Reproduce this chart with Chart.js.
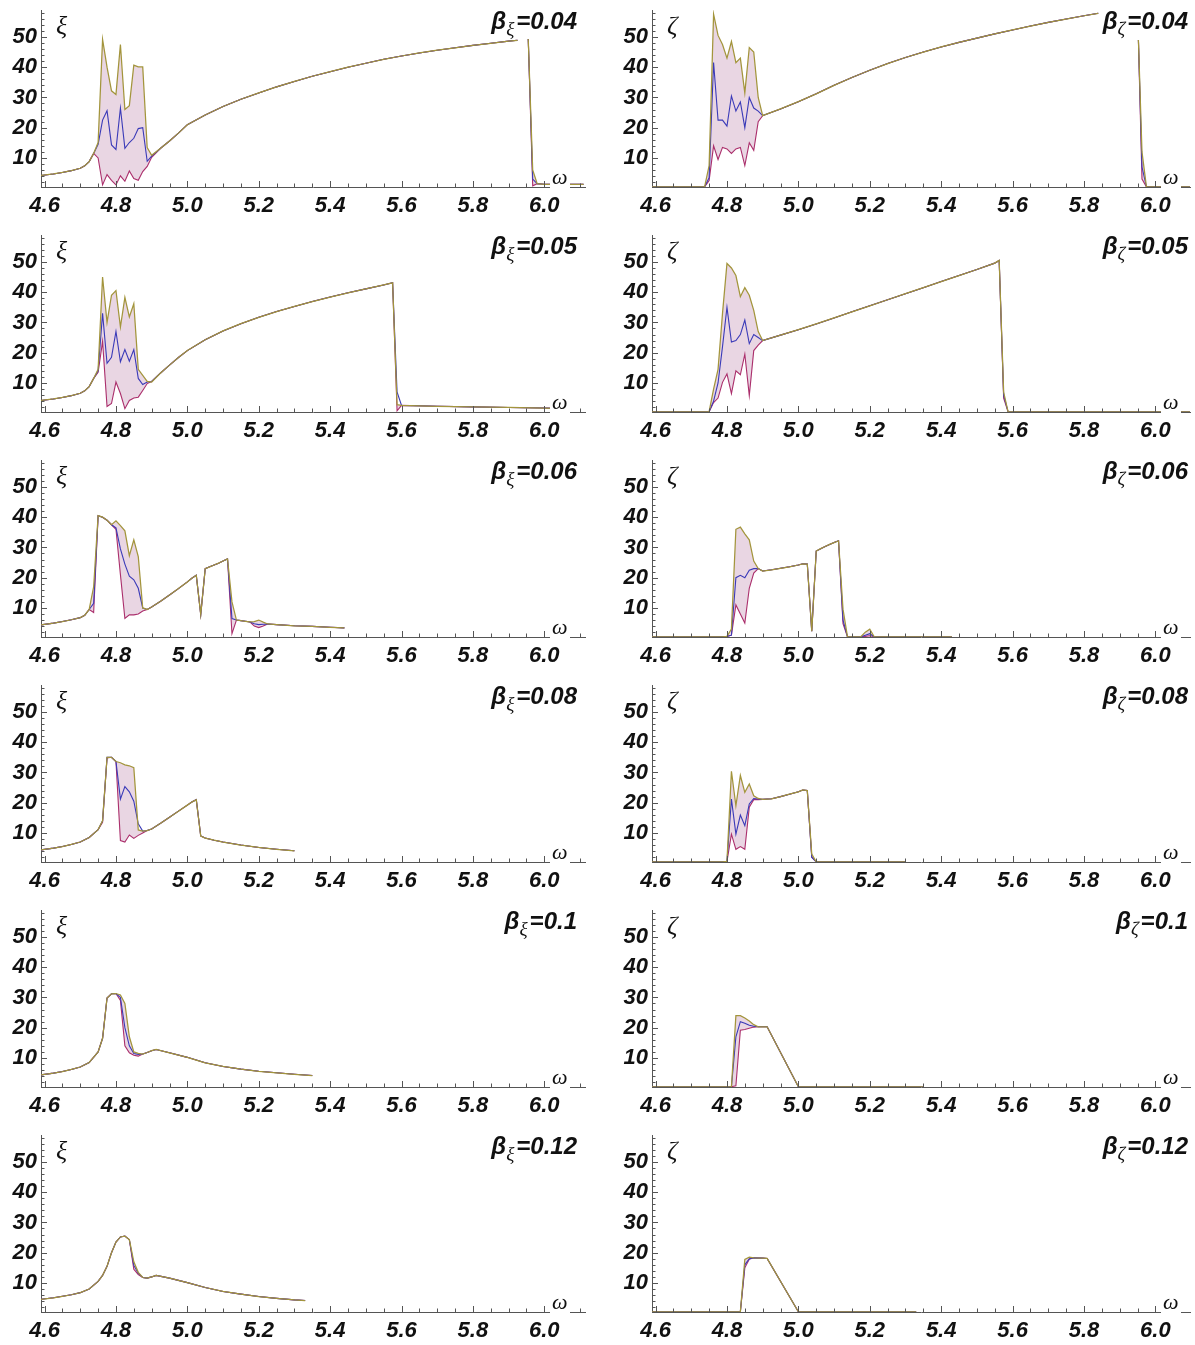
<!DOCTYPE html>
<html><head><meta charset="utf-8">
<script src="https://cdn.jsdelivr.net/npm/chart.js@4.4.0/dist/chart.umd.min.js"></script>
<style>
body{margin:0;background:#fff;width:1195px;height:1345px;position:relative;overflow:hidden}
.panel{position:absolute}
.lbl{position:absolute;white-space:nowrap;color:#111;line-height:1}
.sym{font-family:'Liberation Serif','DejaVu Serif',serif;font-style:italic;font-size:26px}
.om{font-family:'Liberation Serif','DejaVu Serif',serif;font-style:italic;font-size:22px;background:#fff;padding:0 2px}
.beta{font-family:'Liberation Sans',Arial,sans-serif;font-weight:bold;font-style:italic;font-size:24px}
.beta sub{font-family:'Liberation Serif',serif;font-weight:normal;font-size:19px;vertical-align:-6px;margin-right:2px}
</style></head><body>
<script>
// ---------- DATA ----------
const xTicks = [4.6,4.8,5.0,5.2,5.4,5.6,5.8,6.0];
const yTicks = [10,20,30,40,50];

// xi, beta=0.04
const w_xi04  = [4.59,4.625,4.65,4.675,4.7,4.7125,4.725,4.7375,4.75,4.7625,4.775,4.7875,4.8,4.8125,4.825,4.8375,4.85,4.8625,4.875,4.8875,4.9,4.925,4.95,4.975,5.0,5.05,5.1,5.15,5.2,5.25,5.3,5.35,5.4,5.45,5.5,5.55,5.6,5.65,5.7,5.75,5.8,5.85,5.9,5.925,5.94,5.955,5.9675,5.98,6.0,6.05,6.11];
const up_xi04 = [4.2,4.7,5.2,5.8,6.6,7.4,8.8,11.5,15.1,49.2,40,32.2,31.0,47.5,26,27.3,40.7,40.1,40.1,13.4,10.9,13.2,15.6,18.2,21,24.2,27,29.4,31.5,33.5,35.3,37,38.5,40,41.3,42.6,43.7,44.7,45.6,46.4,47.2,47.9,48.6,48.9,null,49.3,6.0,1.5,1.3,1.3,1.3];
const mid_xi04= [4.2,4.7,5.2,5.8,6.6,7.4,8.8,11.5,14.5,22.5,25.6,14.3,12.8,26.5,13.2,15.1,16.5,19.7,20,8.9,10.6,13.2,15.6,18.2,21,24.2,27,29.4,31.5,33.5,35.3,37,38.5,40,41.3,42.6,43.7,44.7,45.6,46.4,47.2,47.9,48.6,48.9,null,49.3,3.0,1.5,1.3,1.3,1.3];
const lo_xi04 = [4.2,4.7,5.2,5.8,6.6,7.4,8.8,11.5,10,1.1,4.5,2.6,1.1,4.1,2.3,5.7,3.2,2.6,5.5,7.2,10.2,13.2,15.6,18.2,21,24.2,27,29.4,31.5,33.5,35.3,37,38.5,40,41.3,42.6,43.7,44.7,45.6,46.4,47.2,47.9,48.6,48.9,null,49.3,0.8,1.5,1.3,1.3,1.3];

// zeta, beta=0.04
const w_ze04  = [4.59,4.65,4.7,4.725,4.7375,4.75,4.7625,4.775,4.7875,4.8,4.8125,4.825,4.8375,4.85,4.8625,4.875,4.8875,4.9,4.95,5.0,5.05,5.1,5.15,5.2,5.25,5.3,5.35,5.4,5.45,5.5,5.55,5.6,5.65,5.7,5.75,5.8,5.84,5.9,5.9525,5.9625,5.975,6.0,6.05,6.1];
const up_ze04 = [0.45,0.45,0.45,0.45,0.5,7.5,57.5,50.5,47.5,43,48.5,41.5,43,31.5,46.5,45,30,24,26.2,28.6,31.2,34,36.6,39,41.2,43.2,45,46.7,48.2,49.6,51,52.3,53.6,54.8,55.9,57,57.8,null,49,12,0.45,0.45,0.45,0.45];
const mid_ze04= [0.45,0.45,0.45,0.45,0.5,3.5,41.5,22.5,22.5,20.5,30.5,25.5,28.5,20,30,26.5,25.5,24,26.2,28.6,31.2,34,36.6,39,41.2,43.2,45,46.7,48.2,49.6,51,52.3,53.6,54.8,55.9,57,57.8,null,49,7,0.45,0.45,0.45,0.45];
const lo_ze04 = [0.45,0.45,0.45,0.45,0.5,2.5,14,9.5,13.5,13,11.5,13,13.5,7.5,15,12.5,22,24,26.2,28.6,31.2,34,36.6,39,41.2,43.2,45,46.7,48.2,49.6,51,52.3,53.6,54.8,55.9,57,57.8,null,49,3,0.45,0.45,0.45,0.45];

// xi, beta=0.05
const w_xi05  = [4.59,4.625,4.65,4.675,4.7,4.7125,4.725,4.7375,4.75,4.7625,4.775,4.7875,4.8,4.8125,4.825,4.8375,4.85,4.8625,4.875,4.8875,4.9,4.925,4.95,4.975,5.0,5.05,5.1,5.15,5.2,5.25,5.3,5.35,5.4,5.45,5.5,5.55,5.575,5.5875,5.6,5.7,5.8,5.9,6.0,6.03];
const up_xi05 = [4.2,4.7,5.2,5.8,6.6,7.4,8.8,11.5,14.5,45,30,39,40.5,28.5,38.3,31.8,36.2,14.5,12.5,10.5,10.3,13.3,15.9,18.4,20.7,24.3,27.2,29.6,31.7,33.6,35.3,36.9,38.4,39.8,41.1,42.4,43.1,2.8,2.6,2.3,2.1,1.9,1.7,1.6];
const mid_xi05= [4.2,4.7,5.2,5.8,6.6,7.4,8.8,11.5,14,33,16.5,18.5,27,17,21,17.2,21,11.5,9.5,10.3,10.5,13.3,15.9,18.4,20.7,24.3,27.2,29.6,31.7,33.6,35.3,36.9,38.4,39.8,41.1,42.4,43.1,7,2.6,2.3,2.1,1.9,1.7,1.6];
const lo_xi05 = [4.2,4.7,5.2,5.8,6.6,7.4,8.8,11.5,13.5,23.7,2.2,3.2,10.3,6.5,1.5,4.2,5.0,5.3,7.5,9.8,10.5,13.3,15.9,18.4,20.7,24.3,27.2,29.6,31.7,33.6,35.3,36.9,38.4,39.8,41.1,42.4,43.1,0.8,2.6,2.3,2.1,1.9,1.7,1.6];

// zeta, beta=0.05
const w_ze05  = [4.59,4.65,4.7,4.725,4.75,4.7625,4.775,4.7875,4.8,4.8125,4.825,4.8375,4.85,4.8625,4.875,4.8875,4.9,4.95,5.0,5.05,5.1,5.15,5.2,5.25,5.3,5.35,5.4,5.45,5.5,5.55,5.5625,5.575,5.5875,5.6,5.7,5.8,5.9,6.0,6.1];
const up_ze05 = [0.45,0.45,0.45,0.45,0.5,8,14.5,33,49.5,48,45.5,38.5,41.5,39,34,27,24,25.8,27.6,29.5,31.5,33.5,35.5,37.5,39.5,41.5,43.5,45.5,47.5,49.6,50.5,7,0.45,0.45,0.45,0.45,0.45,0.45,0.45];
const mid_ze05= [0.45,0.45,0.45,0.45,0.5,4,10,22,35,23.5,24,26,30.8,23,26,25,24,25.8,27.6,29.5,31.5,33.5,35.5,37.5,39.5,41.5,43.5,45.5,47.5,49.6,50.5,6,0.45,0.45,0.45,0.45,0.45,0.45,0.45];
const lo_ze05 = [0.45,0.45,0.45,0.45,0.5,3.5,5,10.2,13,6.5,14,12.7,19.5,5.8,20.7,22.5,24,25.8,27.6,29.5,31.5,33.5,35.5,37.5,39.5,41.5,43.5,45.5,47.5,49.6,50.5,5,0.45,0.45,0.45,0.45,0.45,0.45,0.45];

// xi, beta=0.06
const w_xi06  = [4.59,4.625,4.65,4.675,4.7,4.7125,4.725,4.7375,4.75,4.7625,4.775,4.7875,4.8,4.8125,4.825,4.8375,4.85,4.8625,4.875,4.8875,4.9,4.925,4.95,4.975,5.0,5.0125,5.025,5.0375,5.05,5.0625,5.075,5.0875,5.1,5.1125,5.125,5.1375,5.15,5.1625,5.175,5.1875,5.2,5.2125,5.225,5.25,5.3,5.35,5.4,5.44];
const up_xi06 = [4.4,5.0,5.5,6.1,6.8,7.6,9.5,17,40.5,40,39,37.5,38.8,37.2,35.5,27.3,32.5,27,10,9.5,10.3,12.2,14.3,16.4,18.6,19.8,20.8,7.8,23,23.6,24.2,24.8,25.5,26.2,12,6,5.8,5.6,5.4,5.5,6,5.3,4.7,4.5,4.1,3.9,3.6,3.4];
const mid_xi06= [4.4,5.0,5.5,6.1,6.8,7.6,9.5,11.5,40.5,40,39,37.5,36.5,29.5,24.5,20.5,19.3,16.5,10,9.5,10.3,12.2,14.3,16.4,18.6,19.8,20.8,7.8,23,23.6,24.2,24.8,25.5,26.2,6.5,6,5.8,5.6,5.4,4.8,4.5,4.6,4.7,4.5,4.1,3.9,3.6,3.4];
const lo_xi06 = [4.4,5.0,5.5,6.1,6.8,7.6,9.5,8.5,40.5,40,39,37.5,36,21,6.5,7.7,7.7,8,9,9.5,10.3,12.2,14.3,16.4,18.6,19.8,20.8,7.8,23,23.6,24.2,24.8,25.5,26.2,1.5,6,5.8,5.6,5.4,4.0,3.5,4.0,4.7,4.5,4.1,3.9,3.6,3.4];

// zeta, beta=0.06
const w_ze06  = [4.59,4.7,4.775,4.7875,4.8,4.8125,4.825,4.8375,4.85,4.8625,4.875,4.8875,4.9,4.925,4.95,4.975,5.0,5.0125,5.025,5.0375,5.05,5.0625,5.075,5.0875,5.1,5.1125,5.125,5.1375,5.15,5.175,5.1875,5.2,5.2125,5.225,5.25,5.3,5.35,5.4,5.43];
const up_ze06 = [0.45,0.45,0.45,0.45,0.6,3,36,36.7,34.5,32.5,25.5,23,22.2,22.6,23.1,23.6,24.2,24.6,24.5,2.3,28.8,29.6,30.3,31,31.6,32.2,9.6,0.5,0.45,0.5,2,3,0.5,0.45,0.45,0.45,0.45,0.45,0.45];
const mid_ze06= [0.45,0.45,0.45,0.45,0.6,1,20,20.8,20,22.5,23,23,22.2,22.6,23.1,23.6,24.2,24.6,24.5,2.3,28.8,29.6,30.3,31,31.6,32.2,6,0.5,0.45,0.5,1,1.5,0.5,0.45,0.45,0.45,0.45,0.45,0.45];
const lo_ze06 = [0.45,0.45,0.45,0.45,0.6,1,11,8,5,16.5,21.5,23,22.2,22.6,23.1,23.6,24.2,24.6,24.5,2.3,28.8,29.6,30.3,31,31.6,32.2,4.8,0.5,0.45,0.5,0.6,0.8,0.5,0.45,0.45,0.45,0.45,0.45,0.45];

// xi, beta=0.08
const w_xi08  = [4.59,4.625,4.65,4.675,4.7,4.725,4.75,4.7625,4.775,4.7875,4.8,4.8125,4.825,4.8375,4.85,4.8625,4.875,4.8875,4.9,4.925,4.95,4.975,5.0,5.0125,5.025,5.0375,5.05,5.075,5.1,5.15,5.2,5.25,5.3];
const up_xi08 = [4.4,5.0,5.5,6.2,7.0,8.5,11.1,14,35,35,33.6,33.2,32.5,32.2,31.6,11,10.6,10.8,11.3,13.2,15.2,17.2,19.2,20.2,21,9,8.3,7.6,7,6,5.2,4.6,4.1];
const mid_xi08= [4.4,5.0,5.5,6.2,7.0,8.5,11.1,14,35,35,33.6,21.2,25.3,23.6,20.5,13,10.6,10.8,11.3,13.2,15.2,17.2,19.2,20.2,21,9,8.3,7.6,7,6,5.2,4.6,4.1];
const lo_xi08 = [4.4,5.0,5.5,6.2,7.0,8.5,11.1,13.5,34.8,35,33.6,7.5,7.0,9.3,8.2,9.2,10,10.8,11.3,13.2,15.2,17.2,19.2,20.2,21,9,8.3,7.6,7,6,5.2,4.6,4.1];

// zeta, beta=0.08
const w_ze08  = [4.59,4.7,4.7875,4.8,4.8125,4.825,4.8375,4.85,4.8625,4.875,4.8875,4.9,4.925,4.95,4.975,5.0,5.0125,5.025,5.0375,5.05,5.1,5.2,5.3];
const up_ze08 = [0.45,0.45,0.45,0.6,30.4,19,29,23.4,26.2,22.3,21.4,21.1,21.3,22,22.8,23.6,24.2,24,3,0.45,0.45,0.45,0.45];
const mid_ze08= [0.45,0.45,0.45,0.6,21.2,9.6,15.9,12.4,19.6,21.4,21.2,21.1,21.3,22,22.8,23.6,24.2,24,2,0.45,0.45,0.45,0.45];
const lo_ze08 = [0.45,0.45,0.45,0.6,9.6,4.6,5.5,4.6,18.5,21,21,21.1,21.3,22,22.8,23.6,24.2,24,2,0.45,0.45,0.45,0.45];

// xi, beta=0.1
const w_xi10  = [4.59,4.625,4.65,4.675,4.7,4.725,4.75,4.7625,4.775,4.7875,4.8,4.8125,4.825,4.8375,4.85,4.8625,4.875,4.8875,4.9,4.9125,4.95,5.0,5.025,5.05,5.1,5.15,5.2,5.25,5.3,5.35];
const up_xi10 = [4.4,5.0,5.5,6.2,7.0,8.5,12,16.5,29.8,31.2,31.3,30.8,28,17,12,11.5,11.3,11.8,12.4,12.8,11.7,10.2,9.3,8.4,7.2,6.3,5.6,5.1,4.6,4.2];
const mid_xi10= [4.4,5.0,5.5,6.2,7.0,8.5,12,16.5,29.8,31.2,31.3,30,20,14,11.5,11.2,11.3,11.8,12.4,12.8,11.7,10.2,9.3,8.4,7.2,6.3,5.6,5.1,4.6,4.2];
const lo_xi10 = [4.4,5.0,5.5,6.2,7.0,8.5,12,16.5,29.8,31.2,31.3,29,14,11.7,10.9,10.6,11.3,11.8,12.4,12.8,11.7,10.2,9.3,8.4,7.2,6.3,5.6,5.1,4.6,4.2];

// zeta, beta=0.1
const w_ze10  = [4.59,4.7,4.8,4.8125,4.825,4.8375,4.85,4.8625,4.875,4.8875,4.9,4.9125,5.0,5.1,5.2,5.3,5.35];
const up_ze10 = [0.45,0.45,0.45,0.5,24,24,23.2,22.2,21,20.3,20.3,20.3,0.5,0.45,0.45,0.45,0.45];
const mid_ze10= [0.45,0.45,0.45,0.5,17,22,21.5,20.8,20.5,20.3,20.3,20.3,0.5,0.45,0.45,0.45,0.45];
const lo_ze10 = [0.45,0.45,0.45,0.5,0.8,19.2,19.4,19.8,20.2,20.3,20.3,20.3,0.5,0.45,0.45,0.45,0.45];

// xi, beta=0.12
const w_xi12  = [4.59,4.625,4.65,4.675,4.7,4.725,4.75,4.7625,4.775,4.7875,4.8,4.8125,4.825,4.8375,4.85,4.8625,4.875,4.8875,4.9,4.9125,4.95,5.0,5.05,5.1,5.15,5.2,5.25,5.3,5.33];
const up_xi12 = [4.6,5.1,5.6,6.1,6.8,8.0,10.5,12.5,15.5,20,23.5,25.2,25.5,24.3,17,13.5,11.8,11.6,12,12.5,11.6,10.1,8.5,7.2,6.3,5.5,4.9,4.4,4.2];
const mid_xi12= [4.6,5.1,5.6,6.1,6.8,8.0,10.5,12.5,15.5,20,23.5,25.2,25.5,24.3,15.8,13.2,11.8,11.6,12,12.5,11.6,10.1,8.5,7.2,6.3,5.5,4.9,4.4,4.2];
const lo_xi12 = [4.6,5.1,5.6,6.1,6.8,8.0,10.5,12.5,15.5,20,23.5,25.2,25.5,24.3,14.5,12.8,11.8,11.6,12,12.5,11.6,10.1,8.5,7.2,6.3,5.5,4.9,4.4,4.2];

// zeta, beta=0.12
const w_ze12  = [4.59,4.7,4.8,4.8375,4.85,4.8625,4.875,4.9,4.9125,5.0,5.1,5.2,5.3,5.33];
const up_ze12 = [0.45,0.45,0.45,0.5,17.8,18.5,18.3,18.2,18.1,0.5,0.45,0.45,0.45,0.45];
const mid_ze12= [0.45,0.45,0.45,0.5,16,18,18.3,18.2,18.1,0.5,0.45,0.45,0.45,0.45];
const lo_ze12 = [0.45,0.45,0.45,0.5,15,17.8,18.3,18.2,18.1,0.5,0.45,0.45,0.45,0.45];

const betaLabels = ['0.04','0.05','0.06','0.08','0.1','0.12'];

// ---------- BUILD ----------
const OLIVE='#a3953c', BLUE='#3a3ab8', MAG='#ab2f6c', FILL='#e9d6e3';
const panels = [
  [w_xi04,up_xi04,mid_xi04,lo_xi04],[w_ze04,up_ze04,mid_ze04,lo_ze04],
  [w_xi05,up_xi05,mid_xi05,lo_xi05],[w_ze05,up_ze05,mid_ze05,lo_ze05],
  [w_xi06,up_xi06,mid_xi06,lo_xi06],[w_ze06,up_ze06,mid_ze06,lo_ze06],
  [w_xi08,up_xi08,mid_xi08,lo_xi08],[w_ze08,up_ze08,mid_ze08,lo_ze08],
  [w_xi10,up_xi10,mid_xi10,lo_xi10],[w_ze10,up_ze10,mid_ze10,lo_ze10],
  [w_xi12,up_xi12,mid_xi12,lo_xi12],[w_ze12,up_ze12,mid_ze12,lo_ze12]
];

const tickPlugin = {
  id:'inticks',
  afterDraw(chart){
    const ctx=chart.ctx, xs=chart.scales.x, ys=chart.scales.y;
    const y0=ys.bottom, x0=xs.left;
    ctx.save(); ctx.strokeStyle='#555'; ctx.lineWidth=1;
    for(let k=0;k<=30;k++){
      const v=4.6+k*0.05; if(v>xs.max) break;
      const px=Math.round(xs.getPixelForValue(v))+0.5;
      const len = (k%4===0)?6:3.5;
      ctx.beginPath(); ctx.moveTo(px,y0); ctx.lineTo(px,y0-len); ctx.stroke();
    }
    for(let v=2; v<=ys.max; v+=2){
      const py=Math.round(ys.getPixelForValue(v))+0.5;
      const len = (v%10===0)?6:3.5;
      ctx.beginPath(); ctx.moveTo(x0,py); ctx.lineTo(x0+len,py); ctx.stroke();
    }
    ctx.restore();
  }
};

const tickFont = {family:"'Liberation Sans', Arial, sans-serif", size:22, weight:'bold', style:'italic'};
const zeroPad = s => { s.paddingTop=0; s.paddingBottom=0; s.paddingLeft=0; s.paddingRight=0; };

panels.forEach((p,i)=>{
  const col=i%2, row=Math.floor(i/2);
  const geo = col===0 ? {left:0,width:600,axisW:41,padR:15,xmax:6.114} : {left:610,width:585,axisW:42,padR:5,xmax:6.097};
  const top=row*225;
  const div=document.createElement('div'); div.className='panel';
  div.style.left=geo.left+'px'; div.style.top=top+'px';
  div.style.width=geo.width+'px'; div.style.height='225px';
  const cv=document.createElement('canvas'); cv.width=geo.width; cv.height=225;
  cv.style.width=geo.width+'px'; cv.style.height='225px';
  div.appendChild(cv); document.body.appendChild(div);
  const [w,up,mid,lo]=p;
  const xy = arr => w.map((x,j)=>({x:x,y:arr[j]}));
  new Chart(cv,{
    type:'line',
    data:{datasets:[
      {data:xy(up),borderColor:OLIVE,backgroundColor:FILL,fill:2,order:0,borderWidth:1.25},
      {data:xy(mid),borderColor:BLUE,fill:false,order:1},
      {data:xy(lo),borderColor:MAG,fill:false,order:2}
    ]},
    options:{
      responsive:false,animation:false,events:[],
      spanGaps:false,
      layout:{padding:{top:10,right:geo.padR,left:0,bottom:0}},
      elements:{point:{radius:0},line:{borderWidth:1.1,tension:0}},
      plugins:{legend:{display:false},tooltip:{enabled:false},filler:{drawTime:'beforeDatasetsDraw'}},
      scales:{
        x:{type:'linear',min:4.59,max:geo.xmax,
          afterBuildTicks:s=>{s.ticks=xTicks.map(v=>({value:v}));},
          afterFit:s=>{s.height=38; zeroPad(s);},
          grid:{drawOnChartArea:false,drawTicks:false,color:'rgba(0,0,0,0)'},
          border:{display:true,color:'#555',width:1},
          ticks:{font:tickFont,color:'#111',padding:6,maxRotation:0,autoSkip:false,callback:v=>Number(v).toFixed(1)}
        },
        y:{type:'linear',min:0.4,max:58.9,
          afterBuildTicks:s=>{s.ticks=yTicks.map(v=>({value:v}));},
          afterFit:s=>{s.width=geo.axisW; zeroPad(s);},
          grid:{drawOnChartArea:false,drawTicks:false,color:'rgba(0,0,0,0)'},
          border:{display:true,color:'#555',width:1},
          ticks:{font:tickFont,color:'#111',padding:4,callback:v=>String(v)}
        }
      }
    },
    plugins:[tickPlugin]
  });
  // text labels
  const symCh = col===0 ? 'ξ' : 'ζ';
  const s=document.createElement('div'); s.className='lbl sym'; s.textContent=symCh;
  s.style.left=(geo.left+(col===0?56:57))+'px'; s.style.top=(top+13)+'px'; document.body.appendChild(s);
  const o=document.createElement('div'); o.className='lbl om'; o.textContent='ω';
  o.style.left=(geo.left+(col===0?550:551))+'px'; o.style.top=(top+166)+'px'; document.body.appendChild(o);
  const b=document.createElement('div'); b.className='lbl beta';
  b.innerHTML='β<sub>'+symCh+'</sub>=' + betaLabels[row];
  b.style.right=(1195-(col===0?577:1188))+'px'; b.style.top=(top+9)+'px'; document.body.appendChild(b);
});
</script>
</body></html>
